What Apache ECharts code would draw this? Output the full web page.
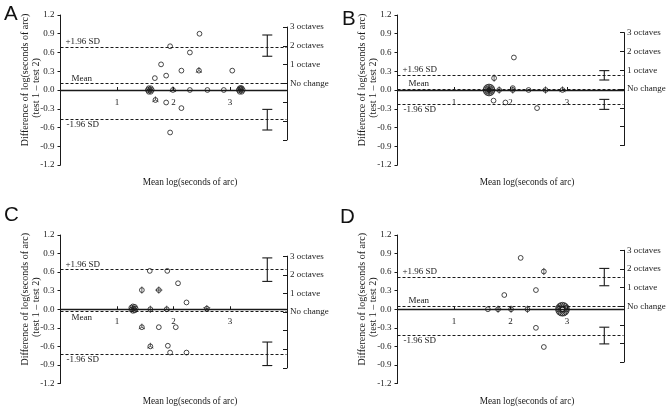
<!DOCTYPE html>
<html><head><meta charset="utf-8">
<script src="https://cdn.jsdelivr.net/npm/echarts@6/dist/echarts.min.js"></script>
<style>html,body{margin:0;padding:0;background:#fff}#c{width:672px;height:413px}</style>
</head><body><div id="c"></div>
<script>
// ---------- data ----------
const panelLetters = ['A', 'B', 'C', 'D'];
const xTickValues = [1, 2, 3];
const xTickLabels = ['1', '2', '3'];
const octaveLabels = ['3 octaves', '2 octaves', '1 octave', 'No change'];
const xName = 'Mean log(seconds of arc)';
const yName1 = 'Difference of log(seconds of arc)';
const yName2 = '(test 1 \u2013 test 2)';

// points: mean log (x), difference (y), number of coincident observations (n)
const xA = [2.46, 1.94, 2.29, 1.78, 2.14, 2.45, 3.04, 1.87, 1.67, 1.58, 1.99, 2.29, 2.60, 2.89, 3.19, 3.19, 1.68, 1.87, 2.14, 1.94];
const yA = [0.90, 0.70, 0.60, 0.41, 0.31, 0.31, 0.31, 0.23, 0.19, 0.00, 0.00, 0.00, 0.00, 0.00, 0.00, 0.03, -0.16, -0.20, -0.29, -0.68];
const nA = [1, 1, 1, 1, 1, 3, 1, 1, 1, 6, 3, 1, 1, 1, 6, 1, 3, 1, 1, 1];

const xB = [2.06, 1.71, 1.62, 1.80, 2.04, 2.32, 2.62, 2.92, 2.04, 1.70, 1.91, 2.47];
const yB = [0.52, 0.19, 0.00, 0.00, 0.00, 0.00, 0.00, 0.00, 0.03, -0.17, -0.20, -0.29];
const nB = [1, 2, 12, 2, 4, 1, 2, 3, 1, 1, 1, 1];

const xC = [1.58, 1.89, 2.08, 1.44, 1.74, 2.23, 1.29, 1.59, 1.88, 2.59, 1.44, 1.74, 2.04, 1.59, 1.90, 1.94, 2.23];
const yC = [0.62, 0.62, 0.42, 0.31, 0.31, 0.11, 0.01, 0.00, 0.00, 0.01, -0.29, -0.29, -0.29, -0.60, -0.59, -0.70, -0.70];
const nC = [1, 1, 1, 2, 4, 1, 7, 2, 3, 5, 3, 1, 1, 3, 1, 1, 1];

const xD = [2.18, 2.59, 1.89, 2.45, 1.60, 1.78, 2.01, 2.30, 2.92, 2.45, 2.59];
const yD = [0.83, 0.61, 0.23, 0.31, 0.00, 0.00, 0.00, 0.00, 0.00, -0.30, -0.61];
const nD = [1, 2, 1, 1, 1, 4, 2, 2, 16, 1, 1];

// limits of agreement and their confidence intervals
const meanDiff = [0.105, 0.015, -0.045, 0.05];
const upperLoA = [0.69, 0.24, 0.64, 0.52];
const lowerLoA = [-0.47, -0.22, -0.72, -0.42];
const upperCI = [[0.54, 0.88], [0.16, 0.31], [0.45, 0.83], [0.38, 0.66]];
const lowerCI = [[-0.64, -0.31], [-0.31, -0.15], [-0.91, -0.53], [-0.56, -0.29]];
const ciX = 3.66;

const OCT = Math.log10(2);
const Y_MIN = -1.2, Y_MAX = 1.2, Y_STEP = 0.3;
const X_MIN = 0, X_MAX = 4;

// ---------- layout ----------
const offX = [0, 337, 0, 337];
const gridTop = [15, 15, 235, 235];
const gridH = [150, 150, 148.5, 148.5];
const axisLeft = 60.5, plotW = 226;
const letterPos = [[4, 4], [342, 9], [4, 205], [340, 207]];

const SERIF = '"Liberation Serif", "Times New Roman", serif';
const INK = '#1a1a1a';

const pts = [[xA, yA, nA], [xB, yB, nB], [xC, yC, nC], [xD, yD, nD]];

function renderPoint(params, api) {
  const p = api.coord([api.value(0), api.value(1)]);
  const n = api.value(2);
  const r = 2.4;
  const st = {fill: 'none', stroke: INK, lineWidth: 0.8};
  const ch = [];
  if (n >= 6) {
    const R = 0.5 + 0.25 * n;
    for (let k = 0; k < n; k++) {
      const a = Math.PI * 2 * k / n;
      ch.push({type: 'circle', shape: {cx: p[0] + R * Math.cos(a), cy: p[1] + R * Math.sin(a), r: r}, style: st});
    }
    ch.push({type: 'circle', shape: {cx: p[0], cy: p[1], r: r}, style: st});
  } else {
    ch.push({type: 'circle', shape: {cx: p[0], cy: p[1], r: r}, style: st});
    if (n >= 2) {
      for (let k = 0; k < n; k++) {
        const a = Math.PI / 2 + Math.PI * 2 * k / n;
        ch.push({type: 'line', shape: {x1: p[0], y1: p[1], x2: p[0] + 3.6 * Math.cos(a), y2: p[1] - 3.6 * Math.sin(a)},
                 style: {stroke: INK, lineWidth: 0.7}});
      }
    }
  }
  return {type: 'group', children: ch};
}

function renderErr(params, api) {
  const x = api.value(0);
  const a = api.coord([x, api.value(1)]);
  const b = api.coord([x, api.value(2)]);
  const w = 5;
  const st = {stroke: INK, lineWidth: 1.1};
  return {type: 'group', children: [
    {type: 'line', shape: {x1: a[0], y1: a[1], x2: b[0], y2: b[1]}, style: st},
    {type: 'line', shape: {x1: a[0] - w, y1: a[1], x2: a[0] + w, y2: a[1]}, style: st},
    {type: 'line', shape: {x1: b[0] - w, y1: b[1], x2: b[0] + w, y2: b[1]}, style: st}
  ]};
}

const grid = [], xAxis = [], yAxis = [], series = [], graphic = [];
const dash = {type: [3, 2], width: 1, color: INK};
const lblBase = {color: INK, fontFamily: SERIF, fontSize: 9};

for (let i = 0; i < 4; i++) {
  const T = gridTop[i], H = gridH[i], ox = offX[i];
  const pix = v => T + (Y_MAX - v) / (Y_MAX - Y_MIN) * H;
  // main grid
  grid.push({left: ox + axisLeft, top: T, width: plotW, height: H});
  // octave scale grid (centered on the mean difference)
  const oTop = pix(meanDiff[i] + 3 * OCT);
  const oH = pix(meanDiff[i] - 3 * OCT) - oTop;
  grid.push({left: ox + axisLeft + plotW - 0.5, top: oTop, width: 1, height: oH});

  xAxis.push({
    gridIndex: 2 * i, type: 'value', min: X_MIN, max: X_MAX, interval: 1,
    position: 'bottom', offset: -(T + H - pix(0)),
    axisLine: {onZero: false, lineStyle: {color: INK, width: 1.3}},
    axisTick: {inside: true, length: 3, customValues: xTickValues, lineStyle: {color: INK}},
    axisLabel: {customValues: xTickValues, margin: 8, ...lblBase,
      formatter: v => { const k = xTickValues.indexOf(v); return k >= 0 ? xTickLabels[k] : ''; }},
    splitLine: {show: false}
  });
  xAxis.push({gridIndex: 2 * i + 1, type: 'value', min: 0, max: 1, show: false});

  yAxis.push({
    gridIndex: 2 * i, type: 'value', min: Y_MIN, max: Y_MAX, interval: Y_STEP,
    axisLine: {show: true, onZero: false, lineStyle: {color: INK, width: 1}},
    axisTick: {show: true, length: 3, lineStyle: {color: INK}},
    axisLabel: {margin: 6, ...lblBase, formatter: v => v.toFixed(1)},
    splitLine: {show: false}
  });
  yAxis.push({
    gridIndex: 2 * i + 1, type: 'value', position: 'right', min: -3, max: 3, interval: 1,
    axisLine: {show: true, onZero: false, lineStyle: {color: INK, width: 1}},
    axisTick: {show: true, inside: true, length: 4, lineStyle: {color: INK}},
    axisLabel: {margin: 3, ...lblBase, formatter: v => (v >= 0 ? octaveLabels[3 - v] : '')},
    splitLine: {show: false}
  });

  const [xs, ys, ns] = pts[i];
  const data = xs.map((x, k) => [x, ys[k], ns[k]]);
  series.push({
    type: 'custom', xAxisIndex: 2 * i, yAxisIndex: 2 * i, renderItem: renderPoint, data: data,
    silent: true, animation: false, z: 3,
    markLine: {
      silent: true, symbol: 'none', animation: false,
      lineStyle: dash,
      data: [
        {yAxis: upperLoA[i], label: {show: true, formatter: '+1.96 SD', position: 'insideStartTop', distance: [5, 1], ...lblBase}},
        {yAxis: meanDiff[i], label: {show: true, formatter: 'Mean', position: meanDiff[i] < 0 ? 'insideStartBottom' : 'insideStartTop', distance: [11, 1], ...lblBase}},
        {yAxis: lowerLoA[i], label: {show: true, formatter: '-1.96 SD', position: 'insideStartBottom', distance: [6, 1], ...lblBase}}
      ]
    }
  });
  series.push({
    type: 'custom', xAxisIndex: 2 * i, yAxisIndex: 2 * i, renderItem: renderErr, silent: true, animation: false,
    data: [[ciX, upperCI[i][0], upperCI[i][1]], [ciX, lowerCI[i][0], lowerCI[i][1]]]
  });

  // texts
  const cy = T + H / 2;
  graphic.push({type: 'text', x: letterPos[i][0], y: letterPos[i][1],
    style: {text: panelLetters[i], fontFamily: '"Liberation Sans", Arial, sans-serif', fontSize: 20.5, fill: '#111', textVerticalAlign: 'top'}});
  graphic.push({type: 'text', x: ox + 190, y: T + H + 18, style: {text: xName, fontFamily: SERIF, fontSize: 9.3, fill: INK, textAlign: 'center', textVerticalAlign: 'middle'}});
  graphic.push({type: 'text', x: ox + 25, y: cy - 10, rotation: Math.PI / 2,
    style: {text: yName1, fontFamily: SERIF, fontSize: 10, fill: INK, textAlign: 'center', textVerticalAlign: 'middle'}});
  graphic.push({type: 'text', x: ox + 36, y: cy - 2, rotation: Math.PI / 2,
    style: {text: yName2, fontFamily: SERIF, fontSize: 10, fill: INK, textAlign: 'center', textVerticalAlign: 'middle'}});
}

const chart = echarts.init(document.getElementById('c'), null, {renderer: 'canvas'});
chart.setOption({animation: false, backgroundColor: '#fff', grid, xAxis, yAxis, series, graphic});
</script></body></html>
